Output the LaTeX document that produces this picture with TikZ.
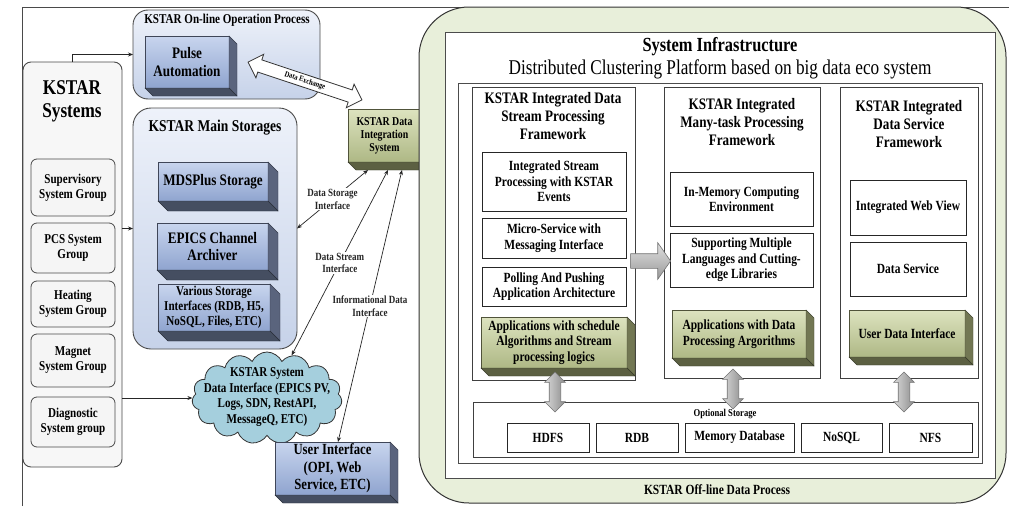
\documentclass[tikz,border=0pt]{standalone}
\usepackage{fontspec}
\setmainfont{Liberation Serif}[FakeStretch=0.82]
\usetikzlibrary{shapes.symbols,shapes.arrows,arrows.meta}
\newcommand{\setfs}[2]{\fontsize{#1}{#2}\selectfont}
\definecolor{blueTop}{HTML}{C8D5EE}
\definecolor{blueBot}{HTML}{8FA4CF}
\definecolor{blueSide}{HTML}{5A647D}
\definecolor{blueBtm}{HTML}{454E61}
\definecolor{grnTop}{HTML}{DDE3BF}
\definecolor{grnBot}{HTML}{AEB885}
\definecolor{grnSide}{HTML}{727753}
\definecolor{grnBtm}{HTML}{5C6042}
\definecolor{contTop}{HTML}{EEF2FA}
\definecolor{contBot}{HTML}{C6D2E9}
\definecolor{offGreen}{HTML}{E8EFDA}
\definecolor{cloudFill}{HTML}{A5CFDD}
\definecolor{edge}{HTML}{4A4A4A}
\newcommand{\extr}[4]{%
  \filldraw[fill=#3, draw=#3!60!black, line width=0.4pt] (#1.north east) -- ++(#2,#2) -- ([shift={(#2,#2)}]#1.south east) -- (#1.south east) -- cycle;
  \filldraw[fill=#4, draw=#4!60!black, line width=0.4pt] (#1.south west) -- (#1.south east) -- ([shift={(#2,#2)}]#1.south east) -- ([shift={(#2,#2)}]#1.south west) -- cycle;}
\begin{document}
\begin{tikzpicture}[x=1pt,y=-1pt,
  bx/.style args={#1/#2/#3/#4}{at={({(#1+#3)/2},{(#2+#4)/2})}, anchor=center, minimum width={#3-#1}, minimum height={#4-#2}, inner sep=0pt, outer sep=0pt, align=center},
  cont/.style={draw=edge, line width=0.9pt, top color=contTop, bottom color=contBot},
  blue3d/.style={draw=blueSide!70!black, line width=0.5pt, top color=blueTop, bottom color=blueBot, font=\bfseries\setfs{16}{17.5}},
  grn3d/.style={draw=grnSide!70!black, line width=0.5pt, top color=grnTop, bottom color=grnBot, font=\bfseries\setfs{14}{15.5}},
  subgrp/.style={draw=edge, line width=0.8pt, fill=black!4, rounded corners=6pt, font=\bfseries\setfs{13.5}{15}},
  wbox/.style={draw=black!85, line width=0.8pt, fill=white, font=\bfseries\setfs{14}{15.5}},
  coltitle/.style={font=\bfseries\setfs{16}{18}, align=center},
  conn/.style={-{Stealth[length=5pt,width=4pt]}, line width=0.7pt, black!85},
  conn2/.style={{Stealth[length=5pt,width=4pt]}-{Stealth[length=5pt,width=4pt]}, line width=0.7pt, black!85},
  lbl/.style={fill=white, inner sep=1pt, font=\bfseries\setfs{11}{12.5}, align=center},
  vgarrow/.style={double arrow, draw=black!55, line width=0.6pt, left color=black!15, right color=black!45, rotate=90, minimum height=40pt, inner xsep=0pt, inner ysep=5.5pt, text height=0pt, text depth=0pt, double arrow head extend=4.5pt, double arrow tip angle=90}
]
\fill[white] (0,0) rectangle (1009,506);
\useasboundingbox (0,0) rectangle (1009,506);
\draw[edge, line width=0.8pt] (22,506) -- (22,7) -- (1009,7);

% ---------------- left part ----------------
\node[bx=23/62/122/467, draw=edge, line width=0.9pt, fill=black!3, rounded corners=8pt] (sys) {};
\node[font=\bfseries\setfs{21}{23}, align=center] (systitle) at (72,101) {KSTAR\\Systems};
\node[subgrp, bx=31/159/115/216] (sup) {Supervisory\\System Group};
\node[subgrp, bx=31/223/115/273] (pcs) {PCS System\\Group};
\node[subgrp, bx=31/281/115/327] (heat) {Heating\\System Group};
\node[subgrp, bx=31/334/115/387] (mag) {Magnet\\System Group};
\node[subgrp, bx=31/397/115/447] (diag) {Diagnostic\\System group};

\node[cont, bx=133/10/320/99, rounded corners=15pt] (online) {};
\node[font=\bfseries\setfs{13.5}{15}] (onlinetitle) at (227,20) {KSTAR On-line Operation Process};
\node[blue3d, bx=145/36/229/88] (pulse) {Pulse\\Automation};
\extr{pulse}{8}{blueSide}{blueBtm}

\node[cont, bx=133/108/297/349, rounded corners=18pt] (main) {};
\node[font=\bfseries\setfs{16.5}{18}] (maintitle) at (215,128) {KSTAR Main Storages};
\node[blue3d, bx=158/162/268/201] (mds) {MDSPlus Storage};
\extr{mds}{10}{blueSide}{blueBtm}
\node[blue3d, bx=157/223/268/270] (epics) {EPICS Channel\\Archiver};
\extr{epics}{10}{blueSide}{blueBtm}
\node[blue3d, bx=158/284/270/331, font=\bfseries\setfs{13.5}{15}] (various) {Various Storage\\Interfaces (RDB, H5,\\NoSQL, Files, ETC)};
\extr{various}{10}{blueSide}{blueBtm}

\node[grn3d, bx=348/109/421/162, font=\bfseries\setfs{12}{13}] (dis) {KSTAR Data\\Integration\\System};
\extr{dis}{8}{grnSide}{grnBtm}

\node[cloud, cloud puffs=15, cloud puff arc=130, aspect=1.7, minimum width=150pt, minimum height=92pt, inner sep=0pt, fill=cloudFill, draw=black!80, line width=0.8pt] (cloud) at (267,398) {};
\node[font=\bfseries\setfs{13.5}{15.4}, align=center] (cloudtxt) at (267,397) {KSTAR System\\Data Interface (EPICS PV,\\Logs, SDN, RestAPI,\\MessageQ, ETC)};

\node[blue3d, bx=275/442/390/495, font=\bfseries\setfs{15.5}{17.5}] (ui) {User Interface\\(OPI, Web\\Service, ETC)};
\extr{ui}{8}{blueSide}{blueBtm}

\node[double arrow, draw=black!80, fill=white, line width=0.8pt, rotate=-18.4, minimum height=120pt, double arrow head extend=6pt, inner xsep=2pt, inner ysep=2.5pt, text height=5.5pt, text depth=1.5pt, font=\bfseries\setfs{8}{9}] (dx) at (305,81) {Data Exchange};

% connectors
\draw[conn] (sys.north) |- (online.west);
\draw[conn] (sys.east |- main.west) -- (main.west);
\draw[conn] (sys.east |- cloud.west) -- (cloud.west);
\draw[conn2] (main.east) -- node[lbl]{Data Storage\\Interface} ([xshift=-16.5pt,yshift=-8pt]dis.south);
\draw[conn2] (cloud.60) -- node[lbl]{Data Stream\\Interface} ([xshift=3.5pt,yshift=-8pt]dis.south);
\draw[conn2] ([xshift=5.5pt]ui.north) -- node[lbl]{Informational Data\\Interface} ([xshift=17.5pt,yshift=-8pt]dis.south);

% ---------------- right part ----------------
\node[bx=419/7/1006/503, draw=black!80, fill=offGreen, rounded corners=50pt, line width=1pt] (offline) {};
\node[font=\bfseries\setfs{14}{16}] (offlbl) at (717,490) {KSTAR Off-line Data Process};
\node[bx=445/32/995/478, draw=black!70, fill=white, line width=0.8pt] (infra) {};
\node[font=\bfseries\setfs{20}{22}] (infratitle) at (720,47) {System Infrastructure};
\node[font=\setfs{21}{23}] (infrasub) at (720,69) {Distributed Clustering Platform based on big data eco system};
\node[bx=458/83/982/463, draw=black!70, line width=0.8pt] (platform) {};

\node[bx=472/87/635/380, draw=black!75, line width=0.8pt] (col1) {};
\node[coltitle] (c1t) at (553,116) {KSTAR Integrated Data\\Stream Processing\\Framework};
\node[bx=664/87/820/378, draw=black!75, line width=0.8pt] (col2) {};
\node[coltitle] (c2t) at (742,122) {KSTAR Integrated\\Many-task Processing\\Framework};
\node[bx=840/87/978/378, draw=black!75, line width=0.8pt] (col3) {};
\node[coltitle] (c3t) at (909,124) {KSTAR Integrated\\Data Service\\Framework};

\node[wbox, bx=482/152/626/211] (c1b1) {Integrated Stream\\Processing with KSTAR\\Events};
\node[wbox, bx=482/218/626/258] (c1b2) {Micro-Service with\\Messaging Interface};
\node[wbox, bx=482/267/626/306] (c1b3) {Polling And Pushing\\Application Architecture};
\node[grn3d, bx=481/317/627/368] (g1) {Applications with schedule\\Algorithms and Stream\\processing logics};
\extr{g1}{8}{grnSide}{grnBtm}

\node[wbox, bx=670/172/813/226] (c2b1) {In-Memory Computing\\Environment};
\node[wbox, bx=670/233/813/287] (c2b2) {Supporting Multiple\\Languages and Cutting-\\edge Libraries};
\node[grn3d, bx=672/310/806/358] (g2) {Applications with Data\\Processing Argorithms};
\extr{g2}{8}{grnSide}{grnBtm}

\node[wbox, bx=850/180/966/235] (c3b1) {Integrated Web View};
\node[wbox, bx=850/242/966/296] (c3b2) {Data Service};
\node[grn3d, bx=849/310/965/357] (g3) {User Data Interface};
\extr{g3}{8}{grnSide}{grnBtm}

\node[bx=473/402/978/457, draw=black!75, line width=0.8pt] (opt) {};
\node[font=\bfseries\setfs{10.5}{12}] (opttitle) at (725,414) {Optional Storage};
\node[wbox, bx=507/423/589/452] (hdfs) {HDFS};
\node[wbox, bx=596/423/678/452] (rdb) {RDB};
\node[wbox, bx=685/423/794/452] (memdb) {Memory Database};
\node[wbox, bx=801/423/882/452] (nosql) {NoSQL};
\node[wbox, bx=889/423/972/452] (nfs) {NFS};

% block arrows
\node[single arrow, draw=black!55, line width=0.6pt, top color=black!12, bottom color=black!40, minimum height=40pt, inner xsep=0pt, inner ysep=7pt, text height=0pt, text depth=0pt, single arrow head extend=11pt, single arrow tip angle=110] (harrow) at (648,261) {};
\node[vgarrow] (va1) at (555,392) {};
\node[vgarrow] (va2) at (733,389) {};
\node[vgarrow] (va3) at (904,392) {};
\end{tikzpicture}
\end{document}
